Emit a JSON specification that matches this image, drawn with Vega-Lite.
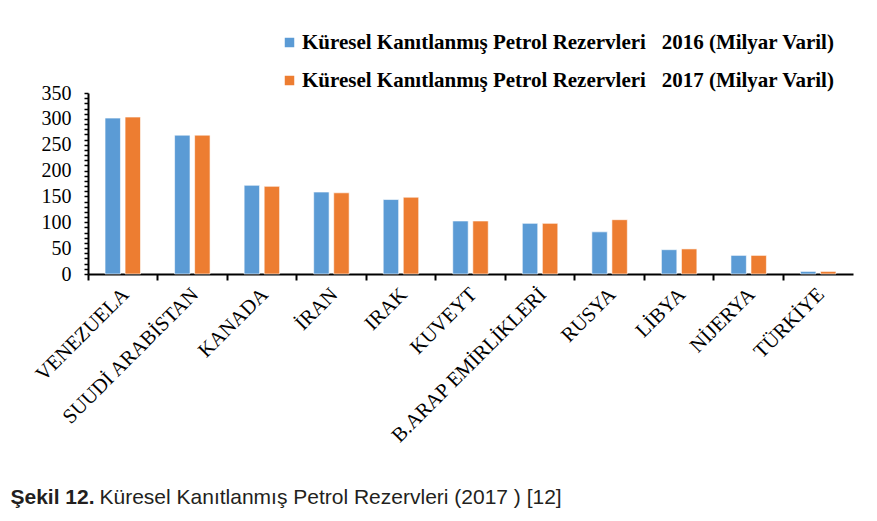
{
  "$schema": "https://vega.github.io/schema/vega-lite/v6.json",
  "width": 765,
  "height": 181,
  "autosize": {"type": "none"},
  "padding": {"left": 88, "top": 93, "right": 24, "bottom": 247},
  "background": "white",
  "config": {"view": {"stroke": null}},
  "data": {
    "values": [
      {"country": "VENEZUELA", "series": "Küresel Kanıtlanmış Petrol Rezervleri\u00a0\u00a0\u00a02016 (Milyar Varil)", "value": 301.5},
      {"country": "VENEZUELA", "series": "Küresel Kanıtlanmış Petrol Rezervleri\u00a0\u00a0\u00a02017 (Milyar Varil)", "value": 303.5},
      {"country": "SUUDİ ARABİSTAN", "series": "Küresel Kanıtlanmış Petrol Rezervleri\u00a0\u00a0\u00a02016 (Milyar Varil)", "value": 268.5},
      {"country": "SUUDİ ARABİSTAN", "series": "Küresel Kanıtlanmış Petrol Rezervleri\u00a0\u00a0\u00a02017 (Milyar Varil)", "value": 268.5},
      {"country": "KANADA", "series": "Küresel Kanıtlanmış Petrol Rezervleri\u00a0\u00a0\u00a02016 (Milyar Varil)", "value": 171.5},
      {"country": "KANADA", "series": "Küresel Kanıtlanmış Petrol Rezervleri\u00a0\u00a0\u00a02017 (Milyar Varil)", "value": 169.5},
      {"country": "İRAN", "series": "Küresel Kanıtlanmış Petrol Rezervleri\u00a0\u00a0\u00a02016 (Milyar Varil)", "value": 158.5},
      {"country": "İRAN", "series": "Küresel Kanıtlanmış Petrol Rezervleri\u00a0\u00a0\u00a02017 (Milyar Varil)", "value": 157},
      {"country": "IRAK", "series": "Küresel Kanıtlanmış Petrol Rezervleri\u00a0\u00a0\u00a02016 (Milyar Varil)", "value": 144},
      {"country": "IRAK", "series": "Küresel Kanıtlanmış Petrol Rezervleri\u00a0\u00a0\u00a02017 (Milyar Varil)", "value": 148.5},
      {"country": "KUVEYT", "series": "Küresel Kanıtlanmış Petrol Rezervleri\u00a0\u00a0\u00a02016 (Milyar Varil)", "value": 102.5},
      {"country": "KUVEYT", "series": "Küresel Kanıtlanmış Petrol Rezervleri\u00a0\u00a0\u00a02017 (Milyar Varil)", "value": 102.5},
      {"country": "B.ARAP EMİRLİKLERİ", "series": "Küresel Kanıtlanmış Petrol Rezervleri\u00a0\u00a0\u00a02016 (Milyar Varil)", "value": 98},
      {"country": "B.ARAP EMİRLİKLERİ", "series": "Küresel Kanıtlanmış Petrol Rezervleri\u00a0\u00a0\u00a02017 (Milyar Varil)", "value": 98},
      {"country": "RUSYA", "series": "Küresel Kanıtlanmış Petrol Rezervleri\u00a0\u00a0\u00a02016 (Milyar Varil)", "value": 81.5},
      {"country": "RUSYA", "series": "Küresel Kanıtlanmış Petrol Rezervleri\u00a0\u00a0\u00a02017 (Milyar Varil)", "value": 105},
      {"country": "LİBYA", "series": "Küresel Kanıtlanmış Petrol Rezervleri\u00a0\u00a0\u00a02016 (Milyar Varil)", "value": 47},
      {"country": "LİBYA", "series": "Küresel Kanıtlanmış Petrol Rezervleri\u00a0\u00a0\u00a02017 (Milyar Varil)", "value": 48.5},
      {"country": "NİJERYA", "series": "Küresel Kanıtlanmış Petrol Rezervleri\u00a0\u00a0\u00a02016 (Milyar Varil)", "value": 36},
      {"country": "NİJERYA", "series": "Küresel Kanıtlanmış Petrol Rezervleri\u00a0\u00a0\u00a02017 (Milyar Varil)", "value": 36},
      {"country": "TÜRKİYE", "series": "Küresel Kanıtlanmış Petrol Rezervleri\u00a0\u00a0\u00a02016 (Milyar Varil)", "value": 5},
      {"country": "TÜRKİYE", "series": "Küresel Kanıtlanmış Petrol Rezervleri\u00a0\u00a0\u00a02017 (Milyar Varil)", "value": 5}
    ]
  },
  "mark": {"type": "bar", "stroke": "white", "strokeWidth": 1, "strokeOpacity": 0.6},
  "encoding": {
    "x": {
      "field": "country",
      "type": "nominal",
      "sort": null,
      "scale": {"paddingInner": 0, "paddingOuter": 0},
      "axis": {
        "title": "Şekil 12.",
        "titleX": -78,
        "titleY": 229,
        "titleAlign": "left",
        "titleAnchor": null,
        "titleBaseline": "alphabetic",
        "titleFont": "Liberation Sans",
        "titleFontWeight": "bold",
        "titleFontSize": 21,
        "titleColor": "#231f20",
        "bandPosition": 0,
        "domainColor": "black",
        "domainWidth": 2,
        "tickColor": "black",
        "tickWidth": 2,
        "tickSize": 6,
        "labelAngle": -45,
        "labelAlign": "right",
        "labelBaseline": "middle",
        "labelPadding": 11,
        "labelOffset": 3,
        "labelLimit": 400,
        "labelFont": "Liberation Serif",
        "labelFontSize": 20.5,
        "labelColor": "black"
      }
    },
    "xOffset": {
      "field": "series",
      "type": "nominal",
      "scale": {"paddingInner": 0.23, "paddingOuter": 0.85}
    },
    "y": {
      "field": "value",
      "type": "quantitative",
      "scale": {"domain": [0, 350], "nice": false},
      "axis": {
        "title": "Küresel Kanıtlanmış Petrol Rezervleri (2017 ) [12]",
        "titleAngle": 0,
        "titleX": 11,
        "titleY": 410,
        "titleAlign": "left",
        "titleAnchor": null,
        "titleBaseline": "alphabetic",
        "titleFont": "Liberation Sans",
        "titleFontWeight": "normal",
        "titleFontSize": 21,
        "titleColor": "#231f20",
        "values": [0, 10, 20, 30, 40, 50, 60, 70, 80, 90, 100, 110, 120, 130, 140, 150, 160, 170, 180, 190, 200, 210, 220, 230, 240, 250, 260, 270, 280, 290, 300, 310, 320, 330, 340, 350],
        "labelExpr": "datum.value % 50 === 0 ? datum.label : ''",
        "grid": false,
        "domainColor": "black",
        "domainWidth": 2,
        "tickColor": "black",
        "tickWidth": 1.5,
        "tickSize": 4,
        "labelPadding": 13,
        "labelFont": "Liberation Serif",
        "labelFontSize": 20,
        "labelColor": "black"
      }
    },
    "color": {
      "field": "series",
      "type": "nominal",
      "scale": {"range": ["#5b9bd5", "#ed7d31"]},
      "legend": {
        "title": null,
        "orient": "none",
        "legendX": 191,
        "legendY": -61,
        "direction": "vertical",
        "symbolType": "square",
        "symbolSize": 90,
        "symbolStrokeWidth": 0,
        "symbolOpacity": 1,
        "labelFont": "Liberation Serif",
        "labelFontWeight": "bold",
        "labelFontSize": 21,
        "labelColor": "black",
        "labelLimit": 700,
        "labelOffset": 2,
        "rowPadding": 16
      }
    }
  }
}
